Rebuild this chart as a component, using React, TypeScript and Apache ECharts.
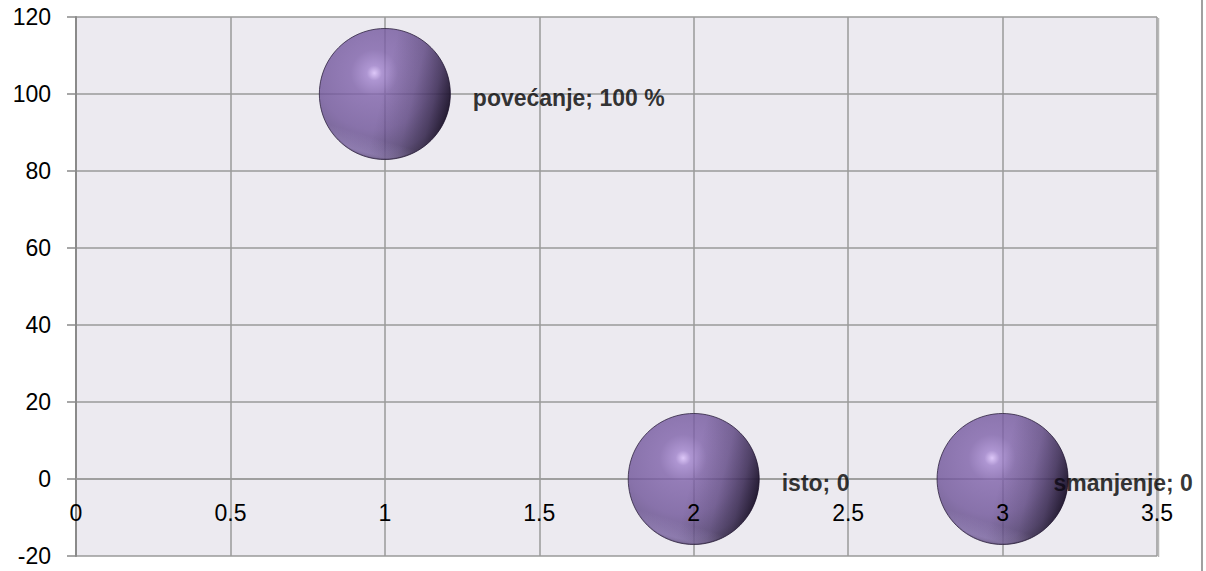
import React, { useEffect, useRef } from "react";
import * as echarts from "echarts";

const labels = ["povećanje", "isto", "smanjenje"];
const xValues = [1, 2, 3];
const yValues = [100, 0, 0];
const valueTexts = ["100 %", "0", "0"];

export default function App() {
  const ref = useRef<HTMLDivElement>(null);
  useEffect(() => {
    document.body.style.margin = "0";
    const chart = echarts.init(ref.current!, null, { renderer: "svg" });
    const font = "'Liberation Sans', Arial, sans-serif";
    const grid = "#9a9a9a";
    const sphere = new echarts.graphic.RadialGradient(0.42, 0.34, 0.72, [
      { offset: 0, color: "#d9befa" },
      { offset: 0.08, color: "#9e80ca" },
      { offset: 0.25, color: "#7e61a9" },
      { offset: 0.6, color: "#6f5499" },
      { offset: 0.85, color: "#58437c" },
      { offset: 1, color: "#3a2b50" },
    ]);
    const shade = new echarts.graphic.LinearGradient(0, 0.3, 1, 0.55, [
      { offset: 0, color: "rgba(20,12,32,0)" },
      { offset: 0.5, color: "rgba(20,12,32,0)" },
      { offset: 0.72, color: "rgba(20,12,32,0.2)" },
      { offset: 0.88, color: "rgba(20,12,32,0.55)" },
      { offset: 1, color: "rgba(15,8,25,0.95)" },
    ]);
    const rim = new echarts.graphic.LinearGradient(0.6, 0, 0.3, 1, [
      { offset: 0, color: "rgba(200,180,240,0)" },
      { offset: 0.82, color: "rgba(200,180,240,0)" },
      { offset: 0.94, color: "rgba(200,180,240,0.35)" },
      { offset: 1, color: "rgba(200,180,240,0.1)" },
    ]);
    const points = labels.map((name, i) => [xValues[i], yValues[i]]);
    const data = labels.map((name, i) => ({
      name,
      value: points[i],
      label: {
        formatter: `${name}; ${valueTexts[i]}`,
        offset: i === 2 ? [-37, 4] : [0, 4],
      },
    }));
    const xCommon = {
      type: "value",
      min: 0,
      max: 3.5,
      interval: 0.5,
      offset: -77,
      position: "bottom",
    };
    chart.setOption({
      animation: false,
      backgroundColor: "#ffffff",
      grid: {
        left: 76,
        top: 17,
        width: 1081,
        height: 539,
        show: true,
        backgroundColor: "#eceaf0",
        borderWidth: 0,
        containLabel: false,
        outerBoundsMode: "none",
      },
      xAxis: [
        {
          ...xCommon,
          axisLine: { show: true, onZero: false, lineStyle: { color: grid, width: 1.5 } },
          axisTick: { show: false },
          axisLabel: { show: false },
          splitLine: { show: true, lineStyle: { color: grid, width: 1.5 } },
        },
        {
          ...xCommon,
          z: 10,
          axisLine: { show: false, onZero: false },
          axisTick: { show: false },
          axisLabel: { color: "#000", fontFamily: font, fontSize: 23, margin: 22, showMaxLabel: true, showMinLabel: true },
          splitLine: { show: false },
        },
      ],
      yAxis: {
        type: "value",
        min: -20,
        max: 120,
        interval: 20,
        axisLine: { show: true, onZero: false, lineStyle: { color: "#8a8a8a", width: 2 } },
        axisTick: { show: true, length: 9, lineStyle: { color: "#8a8a8a", width: 1.5 } },
        axisLabel: { color: "#000", fontFamily: font, fontSize: 23, margin: 25 },
        splitLine: { show: true, lineStyle: { color: grid, width: 1.5 } },
      },
      series: [
        {
          type: "scatter",
          symbol: "circle",
          symbolSize: 131,
          data,
          z: 2,
          itemStyle: { color: sphere, borderColor: "#2e2340", borderWidth: 1 },
          label: {
            show: true,
            position: "right",
            distance: 22,
            color: "#000",
            fontFamily: font,
            fontWeight: "bold",
            fontSize: 23,
          },
        },
        {
          type: "scatter",
          symbol: "circle",
          symbolSize: 131,
          silent: true,
          data: points,
          itemStyle: { color: shade },
          label: { show: false },
          z: 3,
        },
        {
          type: "scatter",
          symbol: "circle",
          symbolSize: 129,
          silent: true,
          data: points,
          itemStyle: { color: rim },
          label: { show: false },
          z: 4,
        },
      ],
      graphic: [
        {
          type: "line",
          shape: { x1: 1202, y1: 0, x2: 1202, y2: 571 },
          style: { stroke: "#a0a0a0", lineWidth: 2 },
        },
        {
          type: "line",
          shape: { x1: 1158.5, y1: 18, x2: 1158.5, y2: 557 },
          style: { stroke: "#b8b8b8", lineWidth: 1.5 },
        },
      ],
    });
    return () => chart.dispose();
  }, []);
  return <div ref={ref} style={{ width: 1206, height: 571 }} />;
}
